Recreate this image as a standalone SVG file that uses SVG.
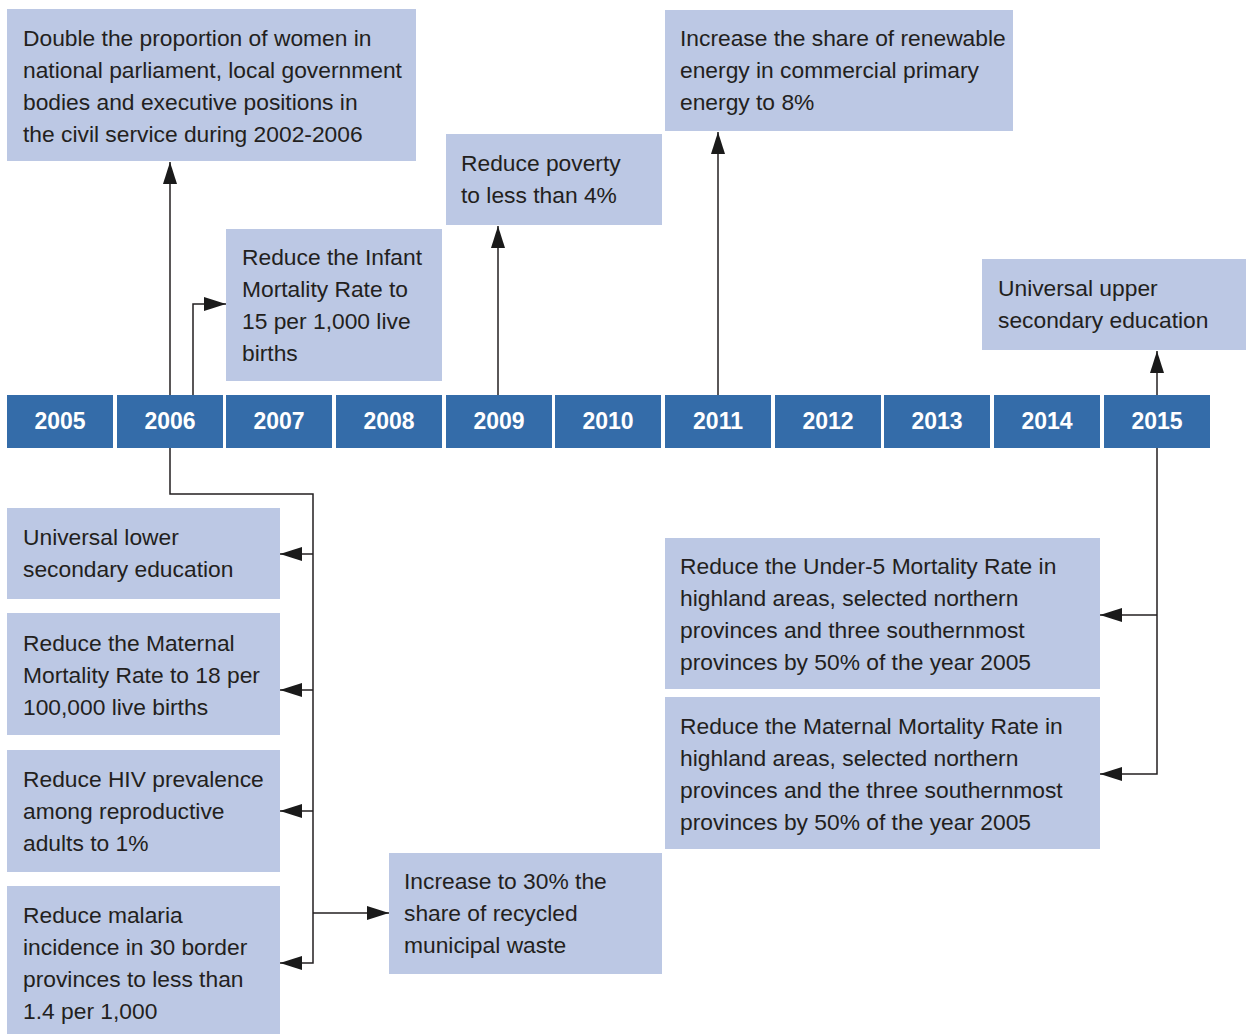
<svg xmlns="http://www.w3.org/2000/svg" width="1246" height="1034" viewBox="0 0 1246 1034">
<style>
.box{fill:#BCC8E4}
.yr{fill:#346CA9}
.t{font-family:"Liberation Sans",Arial,sans-serif;font-size:22.8px;fill:#231F20}
.y{font-family:"Liberation Sans",Arial,sans-serif;font-size:23px;font-weight:bold;fill:#FFFFFF;text-anchor:middle}
.ln{fill:none;stroke:#231F20;stroke-width:1.5}
</style>
<defs>
<marker id="ah" markerUnits="userSpaceOnUse" markerWidth="24" markerHeight="16" refX="22" refY="7" orient="auto">
<path d="M0,0 L22,7 L0,14 Z" fill="#1A1A1A"/>
</marker>
</defs>
<rect width="1246" height="1034" fill="#FFFFFF"/>
<g id="years">
<g id="y2005"><rect class="yr" x="7" y="395" width="106" height="53"/><text class="y" x="60" y="429">2005</text></g>
<g id="y2006"><rect class="yr" x="117" y="395" width="106" height="53"/><text class="y" x="170" y="429">2006</text></g>
<g id="y2007"><rect class="yr" x="226" y="395" width="106" height="53"/><text class="y" x="279" y="429">2007</text></g>
<g id="y2008"><rect class="yr" x="336" y="395" width="106" height="53"/><text class="y" x="389" y="429">2008</text></g>
<g id="y2009"><rect class="yr" x="446" y="395" width="106" height="53"/><text class="y" x="499" y="429">2009</text></g>
<g id="y2010"><rect class="yr" x="555" y="395" width="106" height="53"/><text class="y" x="608" y="429">2010</text></g>
<g id="y2011"><rect class="yr" x="665" y="395" width="106" height="53"/><text class="y" x="718" y="429">2011</text></g>
<g id="y2012"><rect class="yr" x="775" y="395" width="106" height="53"/><text class="y" x="828" y="429">2012</text></g>
<g id="y2013"><rect class="yr" x="884" y="395" width="106" height="53"/><text class="y" x="937" y="429">2013</text></g>
<g id="y2014"><rect class="yr" x="994" y="395" width="106" height="53"/><text class="y" x="1047" y="429">2014</text></g>
<g id="y2015"><rect class="yr" x="1104" y="395" width="106" height="53"/><text class="y" x="1157" y="429">2015</text></g>
</g>
<g id="connectors">
<path class="ln" d="M170,395 V162" marker-end="url(#ah)"/>
<path class="ln" d="M193,395 V304 H226" marker-end="url(#ah)"/>
<path class="ln" d="M498,395 V226" marker-end="url(#ah)"/>
<path class="ln" d="M718,395 V132" marker-end="url(#ah)"/>
<path class="ln" d="M1157,395 V351" marker-end="url(#ah)"/>
<path class="ln" d="M170,448 V494 H313 V963 H280" marker-end="url(#ah)"/>
<path class="ln" d="M313,554 H280" marker-end="url(#ah)"/>
<path class="ln" d="M313,690 H280" marker-end="url(#ah)"/>
<path class="ln" d="M313,811 H280" marker-end="url(#ah)"/>
<path class="ln" d="M313,913 H389" marker-end="url(#ah)"/>
<path class="ln" d="M1157,448 V774 H1100" marker-end="url(#ah)"/>
<path class="ln" d="M1157,615 H1100" marker-end="url(#ah)"/>
</g>
<g id="n-women"><rect class="box" x="7" y="9" width="409" height="152"/>
<text class="t"><tspan x="23" y="46">Double the proportion of women in</tspan><tspan x="23" y="78">national parliament, local government</tspan><tspan x="23" y="110">bodies and executive positions in</tspan><tspan x="23" y="142">the civil service during 2002-2006</tspan></text></g>
<g id="n-infant"><rect class="box" x="226" y="229" width="216" height="152"/>
<text class="t"><tspan x="242" y="265">Reduce the Infant</tspan><tspan x="242" y="297">Mortality Rate to</tspan><tspan x="242" y="329">15 per 1,000 live</tspan><tspan x="242" y="361">births</tspan></text></g>
<g id="n-poverty"><rect class="box" x="446" y="134" width="216" height="91"/>
<text class="t"><tspan x="461" y="171">Reduce poverty</tspan><tspan x="461" y="203">to less than 4%</tspan></text></g>
<g id="n-renewable"><rect class="box" x="665" y="10" width="348" height="121"/>
<text class="t"><tspan x="680" y="46">Increase the share of renewable</tspan><tspan x="680" y="78">energy in commercial primary</tspan><tspan x="680" y="110">energy to 8%</tspan></text></g>
<g id="n-upper"><rect class="box" x="982" y="259" width="264" height="91"/>
<text class="t"><tspan x="998" y="296">Universal upper</tspan><tspan x="998" y="328">secondary education</tspan></text></g>
<g id="n-lower"><rect class="box" x="7" y="508" width="273" height="91"/>
<text class="t"><tspan x="23" y="545">Universal lower</tspan><tspan x="23" y="577">secondary education</tspan></text></g>
<g id="n-maternal"><rect class="box" x="7" y="613" width="273" height="122"/>
<text class="t"><tspan x="23" y="651">Reduce the Maternal</tspan><tspan x="23" y="683">Mortality Rate to 18 per</tspan><tspan x="23" y="715">100,000 live births</tspan></text></g>
<g id="n-hiv"><rect class="box" x="7" y="750" width="273" height="122"/>
<text class="t"><tspan x="23" y="787">Reduce HIV prevalence</tspan><tspan x="23" y="819">among reproductive</tspan><tspan x="23" y="851">adults to 1%</tspan></text></g>
<g id="n-malaria"><rect class="box" x="7" y="886" width="273" height="148"/>
<text class="t"><tspan x="23" y="923">Reduce malaria</tspan><tspan x="23" y="955">incidence in 30 border</tspan><tspan x="23" y="987">provinces to less than</tspan><tspan x="23" y="1019">1.4 per 1,000</tspan></text></g>
<g id="n-waste"><rect class="box" x="389" y="853" width="273" height="121"/>
<text class="t"><tspan x="404" y="889">Increase to 30% the</tspan><tspan x="404" y="921">share of recycled</tspan><tspan x="404" y="953">municipal waste</tspan></text></g>
<g id="n-under5"><rect class="box" x="665" y="538" width="435" height="151"/>
<text class="t"><tspan x="680" y="574">Reduce the Under-5 Mortality Rate in</tspan><tspan x="680" y="606">highland areas, selected northern</tspan><tspan x="680" y="638">provinces and three southernmost</tspan><tspan x="680" y="670">provinces by 50% of the year 2005</tspan></text></g>
<g id="n-maternal2"><rect class="box" x="665" y="697" width="435" height="152"/>
<text class="t"><tspan x="680" y="734">Reduce the Maternal Mortality Rate in</tspan><tspan x="680" y="766">highland areas, selected northern</tspan><tspan x="680" y="798">provinces and the three southernmost</tspan><tspan x="680" y="830">provinces by 50% of the year 2005</tspan></text></g>
</svg>
